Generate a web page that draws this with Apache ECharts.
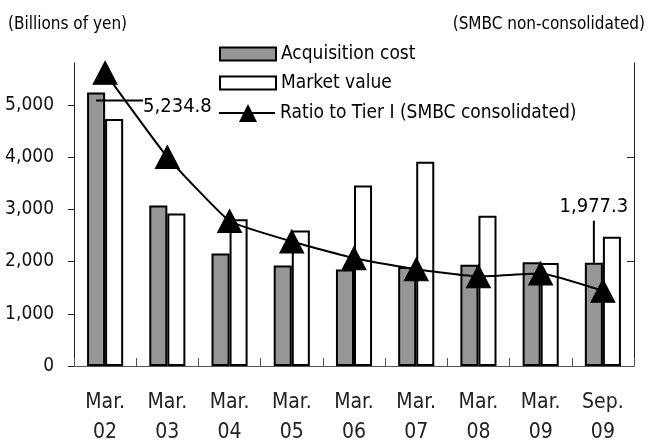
<!DOCTYPE html>
<html>
<head>
<meta charset="utf-8">
<script src="https://cdn.jsdelivr.net/npm/echarts@6/dist/echarts.min.js"></script>
<style>
  html, body { margin: 0; padding: 0; background: #fff; }
  #chart { width: 650px; height: 448px; }
</style>
</head>
<body>
<div id="chart"></div>
<script>
// data
var categories = ['Mar.\n02', 'Mar.\n03', 'Mar.\n04', 'Mar.\n05', 'Mar.\n06', 'Mar.\n07', 'Mar.\n08', 'Mar.\n09', 'Sep.\n09'];
var acquisitionCost = [5234.8, 3070, 2155, 1925, 1845, 1895, 1940, 1985, 1977.3];
var marketValue = [4730, 2920, 2810, 2595, 3455, 3910, 2875, 1970, 2475];
// ratio to Tier I (%), right axis, labels not shown
var ratioTier1 = [140.3, 100, 69.4, 59.6, 51.6, 46.3, 42.9, 44.3, 36];
var leftTicks = [0, 1000, 2000, 3000, 4000, 5000];
var rightTicks = [50, 100];

var FONT = '"DejaVu Sans Condensed", "DejaVu Sans", sans-serif';

var myChart = echarts.init(document.getElementById('chart'));

// annotation labels on first and last acquisition bars
var costData = acquisitionCost.map(function (v, i) {
  if (i === 0) {
    return {
      value: v,
      label: {
        show: true,
        position: ['50%', 14],
        align: 'left',
        verticalAlign: 'middle',
        formatter: '{l|}{v|5,234.8}',
        rich: {
          l: { width: 47, height: 2, backgroundColor: '#000', verticalAlign: 'top' },
          v: { fontFamily: FONT, fontSize: 20, color: '#000', lineHeight: 14, verticalAlign: 'middle' }
        }
      }
    };
  }
  if (i === acquisitionCost.length - 1) {
    return {
      value: v,
      label: {
        show: true,
        position: 'top',
        distance: 0,
        formatter: '{v|1,977.3}\n{l|}',
        rich: {
          v: { fontFamily: FONT, fontSize: 20, color: '#000', lineHeight: 28, align: 'center' },
          l: { width: 2, height: 42, backgroundColor: '#000', align: 'center' }
        }
      }
    };
  }
  return v;
});

var option = {
  animation: false,
  backgroundColor: '#fff',
  textStyle: { fontFamily: FONT },
  title: [
    {
      text: '(Billions of yen)',
      left: 3, top: 11,
      textStyle: { fontFamily: FONT, fontSize: 17, fontWeight: 'normal', color: '#000' }
    },
    {
      text: '(SMBC non-consolidated)',
      right: 0, top: 11,
      textStyle: { fontFamily: FONT, fontSize: 17, fontWeight: 'normal', color: '#000' }
    }
  ],
  legend: [
    {
      orient: 'vertical',
      left: 214,
      top: 39,
      itemWidth: 56,
      itemHeight: 13,
      itemGap: 9,
      icon: 'rect',
      textStyle: { fontFamily: FONT, fontSize: 19, color: '#000', lineHeight: 20 },
      data: ['Acquisition cost', 'Market value']
    },
    {
      orient: 'vertical',
      left: 214,
      top: 98,
      itemWidth: 56,
      itemHeight: 18,
      textStyle: { fontFamily: FONT, fontSize: 19, color: '#000', lineHeight: 20 },
      data: [{
        name: 'Ratio to Tier I (SMBC consolidated)',
        icon: 'path://M0,8L56,8L56,10L0,10Z M29,0L38,18L20,18Z'
      }]
    }
  ],
  grid: {
    left: 74,
    right: 16,
    top: 63,
    bottom: 75
  },
  xAxis: {
    type: 'category',
    data: categories,
    axisLine: { lineStyle: { color: '#555', width: 1 } },
    axisTick: { show: true, inside: true, length: 8, lineStyle: { color: '#555' } },
    axisLabel: {
      fontFamily: FONT, fontSize: 21, color: '#222',
      lineHeight: 30, margin: 22
    },
    splitLine: { show: false }
  },
  yAxis: [
    {
      type: 'value',
      min: 0,
      max: 5800,
      axisLine: { show: true, lineStyle: { color: '#222', width: 1 } },
      axisTick: { show: true, length: 6, customValues: leftTicks, lineStyle: { color: '#222' } },
      axisLabel: {
        customValues: leftTicks,
        fontFamily: FONT, fontSize: 19, color: '#111', margin: 20,
        formatter: function (v) { return v.toLocaleString('en-US'); }
      },
      splitLine: { show: false }
    },
    {
      type: 'value',
      min: 0,
      max: 145,
      position: 'right',
      axisLine: { show: true, lineStyle: { color: '#222', width: 1 } },
      axisTick: { show: true, inside: true, length: 7, customValues: rightTicks, lineStyle: { color: '#222' } },
      axisLabel: { show: false },
      splitLine: { show: false }
    }
  ],
  series: [
    {
      name: 'Acquisition cost',
      type: 'bar',
      data: costData,
      barGap: '0%',
      barCategoryGap: '42%',
      itemStyle: { color: '#969696', borderColor: '#000', borderWidth: 2 },
      z: 2
    },
    {
      name: 'Market value',
      type: 'bar',
      data: marketValue,
      itemStyle: { color: '#fff', borderColor: '#000', borderWidth: 2 },
      z: 2
    },
    {
      name: 'Ratio to Tier I (SMBC consolidated)',
      type: 'line',
      yAxisIndex: 1,
      data: ratioTier1,
      smooth: 0.12,
      symbol: 'triangle',
      symbolSize: [24, 23],
      showAllSymbol: true,
      lineStyle: { color: '#000', width: 2 },
      itemStyle: { color: '#000', borderColor: '#000' },
      z: 5
    }
  ]
};

myChart.setOption(option);
window.onresize = function () { myChart.resize(); };
</script>
</body>
</html>
